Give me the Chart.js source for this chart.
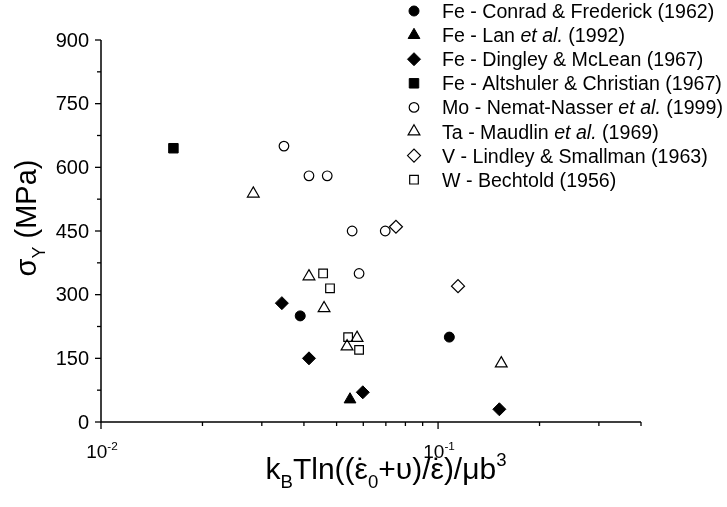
<!DOCTYPE html>
<html>
<head>
<meta charset="utf-8">
<script src="https://cdn.jsdelivr.net/npm/chart.js@4.4.0/dist/chart.umd.min.js"></script>
<style>
  html, body { margin: 0; padding: 0; background: #fff; }
</style>
</head>
<body>
<canvas id="plot" width="727" height="507"></canvas>
<script>
// dados
const seriesLabels = [
  "Fe - Conrad & Frederick (1962)",
  "Fe - Lan et al. (1992)",
  "Fe - Dingley & McLean (1967)",
  "Fe - Altshuler & Christian (1967)",
  "Mo - Nemat-Nasser et al. (1999)",
  "Ta - Maudlin et al. (1969)",
  "V - Lindley & Smallman (1963)",
  "W - Bechtold (1956)"
];
const conradX = [0.039, 0.108];
const conradY = [250, 200];
const lanX = [0.0548];
const lanY = [53];
const dingleyX = [0.0344, 0.0414, 0.0598, 0.152];
const dingleyY = [280, 150, 70, 30];
const altshulerX = [0.0164];
const altshulerY = [645];
const nematX = [0.0349, 0.0414, 0.0469, 0.0556, 0.0697, 0.0583];
const nematY = [650, 580, 580, 450, 450, 350];
const maudlinX = [0.0283, 0.0414, 0.0459, 0.0575, 0.0537, 0.154];
const maudlinY = [538, 343, 268, 198, 178, 138];
const lindleyX = [0.0750, 0.1146];
const lindleyY = [460, 320];
const bechtoldX = [0.0456, 0.0478, 0.0541, 0.0583];
const bechtoldY = [350, 315, 200, 170];

const xTicks = [0.01, 0.02, 0.03, 0.04, 0.05, 0.06, 0.07, 0.08, 0.09, 0.1, 0.2, 0.3, 0.4];
const xMajor = [0.01, 0.1];
const xMajorExp = ["-2", "-1"];
const yTicks = [0, 75, 150, 225, 300, 375, 450, 525, 600, 675, 750, 825, 900];
const yMajor = [0, 150, 300, 450, 600, 750, 900];

const FONT = '"Liberation Sans", Arial, sans-serif';

function pts(xs, ys) { return xs.map((v, i) => ({ x: v, y: ys[i] })); }

function serie(i, xs, ys, style, r, filled) {
  return {
    label: seriesLabels[i],
    data: pts(xs, ys),
    pointStyle: style,
    pointRadius: r,
    pointBorderWidth: filled ? 1 : 1.2,
    pointBorderColor: "#000",
    pointBackgroundColor: filled ? "#000" : "rgba(0,0,0,0)",
    showLine: false
  };
}

function fontFor(p, size) {
  const s = (p.sub || p.sup) ? size * 0.62 : size;
  return (p.it ? "italic " : "") + s + "px " + FONT;
}
function richWidth(ctx, parts, size) {
  let w = 0;
  parts.forEach(p => { ctx.font = fontFor(p, size); w += ctx.measureText(p.t).width; });
  return w;
}
function drawRich(ctx, parts, x, y, size) {
  ctx.textAlign = "left";
  ctx.textBaseline = "alphabetic";
  parts.forEach(p => {
    ctx.font = fontFor(p, size);
    const dy = p.sub ? size * 0.3 : p.sup ? -size * 0.42 : 0;
    const w = ctx.measureText(p.t).width;
    ctx.fillText(p.t, x, y + dy);
    if (p.dot) {
      ctx.font = size + "px " + FONT;
      ctx.textAlign = "center";
      ctx.fillText("\u02D9", x + w / 2, y);
      ctx.textAlign = "left";
    }
    x += w;
  });
}

const xTitle = [
  { t: "k" }, { t: "B", sub: 1 }, { t: "Tln((" }, { t: "\u03B5", dot: 1 }, { t: "0", sub: 1 },
  { t: "+\u03C5)/" }, { t: "\u03B5", dot: 1 }, { t: ")/\u03BCb" }, { t: "3", sup: 1 }
];
const yTitle = [{ t: "\u03C3" }, { t: "Y", sub: 1 }, { t: " (MPa)" }];

// eixos, marcas e textos
const axesPlugin = {
  id: "axes",
  beforeDatasetsDraw(chart) {
    const { ctx, scales: { x, y } } = chart;
    const x0 = x.getPixelForValue(xTicks[0]);
    const x1 = x.getPixelForValue(xTicks[xTicks.length - 1]);
    const y0 = y.getPixelForValue(yTicks[0]);
    const y1 = y.getPixelForValue(yTicks[yTicks.length - 1]);
    ctx.save();
    ctx.strokeStyle = "#000";
    ctx.fillStyle = "#000";
    ctx.lineWidth = 1.5;
    ctx.beginPath();
    ctx.moveTo(x0, y1); ctx.lineTo(x0, y0); ctx.lineTo(x1, y0);
    ctx.stroke();

    ctx.lineWidth = 1.3;
    xTicks.forEach(v => {
      const px = x.getPixelForValue(v);
      const len = xMajor.includes(v) ? 7 : 4;
      ctx.beginPath(); ctx.moveTo(px, y0); ctx.lineTo(px, y0 + len); ctx.stroke();
    });
    yTicks.forEach(v => {
      const py = y.getPixelForValue(v);
      const len = yMajor.includes(v) ? 6 : 4;
      ctx.beginPath(); ctx.moveTo(x0, py); ctx.lineTo(x0 - len, py); ctx.stroke();
    });

    // rótulos do eixo y
    ctx.font = "20px " + FONT;
    ctx.textAlign = "right";
    ctx.textBaseline = "middle";
    yMajor.forEach(v => ctx.fillText(String(v), x0 - 12, y.getPixelForValue(v) + 1));

    // rótulos do eixo x (10^n)
    xMajor.forEach((v, i) => {
      const parts = [{ t: "10" }, { t: xMajorExp[i], sup: 1 }];
      const w = richWidth(ctx, parts, 19);
      drawRich(ctx, parts, x.getPixelForValue(v) - w / 2 + 1, y0 + 36, 19);
    });

    // títulos
    const tw = richWidth(ctx, xTitle, 30);
    drawRich(ctx, xTitle, 386 - tw / 2, 479, 30);

    ctx.save();
    ctx.translate(36, 218);
    ctx.rotate(-Math.PI / 2);
    const yw = richWidth(ctx, yTitle, 29);
    drawRich(ctx, yTitle, -yw / 2, 0, 29);
    ctx.restore();
    ctx.restore();
  },
  afterDraw(chart) {
    const { ctx } = chart;
    ctx.save();
    chart.data.datasets.forEach((ds, i) => {
      const cy = 11 + i * 24.1;
      ctx.fillStyle = ds.pointBackgroundColor;
      ctx.strokeStyle = ds.pointBorderColor;
      ctx.lineWidth = ds.pointBorderWidth;
      Chart.helpers.drawPoint(ctx, { pointStyle: ds.pointStyle, radius: ds.pointRadius, rotation: 0, borderWidth: ds.pointBorderWidth }, 414, cy);
      ctx.fillStyle = "#000";
      const bits = ds.label.split("et al.");
      const parts = [];
      bits.forEach((b, k) => {
        if (k > 0) parts.push({ t: "et al.", it: 1 });
        parts.push({ t: b });
      });
      drawRich(ctx, parts, 442, cy + 7, 19.6);
    });
    ctx.restore();
  }
};

new Chart(document.getElementById("plot").getContext("2d"), {
  type: "scatter",
  data: {
    datasets: [
      serie(0, conradX, conradY, "circle", 5, true),
      serie(1, lanX, lanY, "triangle", 6.8, true),
      serie(2, dingleyX, dingleyY, "rectRot", 6.5, true),
      serie(3, altshulerX, altshulerY, "rect", 6.7, true),
      serie(4, nematX, nematY, "circle", 4.8, false),
      serie(5, maudlinX, maudlinY, "triangle", 6.8, false),
      serie(6, lindleyX, lindleyY, "rectRot", 6.5, false),
      serie(7, bechtoldX, bechtoldY, "rect", 6.1, false)
    ]
  },
  options: {
    responsive: false,
    devicePixelRatio: 1,
    animation: false,
    layout: { padding: { left: 101, right: 86, top: 40, bottom: 85 } },
    scales: {
      x: { type: "logarithmic", min: 0.01, max: 0.4, display: false },
      y: { type: "linear", min: 0, max: 900, display: false }
    },
    plugins: { legend: { display: false }, tooltip: { enabled: false } }
  },
  plugins: [axesPlugin]
});
</script>
</body>
</html>
